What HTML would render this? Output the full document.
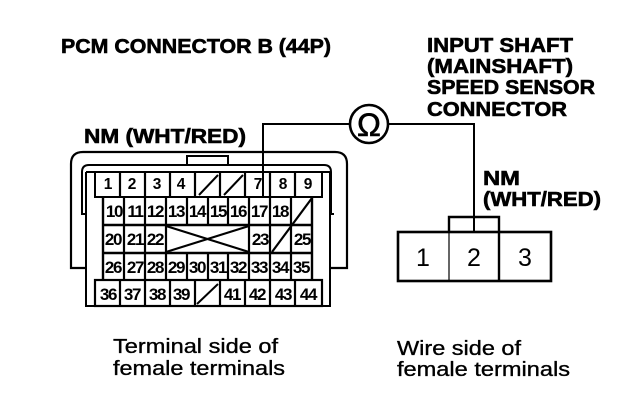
<!DOCTYPE html>
<html><head><meta charset="utf-8"><style>
html,body{margin:0;padding:0;background:#fff}
svg{display:block}
text{font-family:"Liberation Sans",sans-serif;fill:#000}
.b{font-weight:bold;font-size:20px;stroke:#000;stroke-width:.6px}
.n{font-size:15.5px;font-weight:bold;text-anchor:middle}
.m{font-size:17px;font-weight:bold;text-anchor:middle;letter-spacing:-1.3px}
.r{font-size:20px;stroke:#000;stroke-width:.35px}
.d{font-size:25px;text-anchor:middle}
</style></head><body>
<svg width="640" height="416" viewBox="0 0 640 416" xmlns="http://www.w3.org/2000/svg">
<rect width="640" height="416" fill="#fff"/>
<text class="b" x="61" y="53" textLength="270" lengthAdjust="spacingAndGlyphs">PCM CONNECTOR B (44P)</text>
<text class="b" x="427" y="52" textLength="146" lengthAdjust="spacingAndGlyphs">INPUT SHAFT</text>
<text class="b" x="427" y="73" textLength="146" lengthAdjust="spacingAndGlyphs">(MAINSHAFT)</text>
<text class="b" x="427" y="94" textLength="168" lengthAdjust="spacingAndGlyphs">SPEED SENSOR</text>
<text class="b" x="427" y="116" textLength="140" lengthAdjust="spacingAndGlyphs">CONNECTOR</text>
<text class="b" x="84" y="143" textLength="162" lengthAdjust="spacingAndGlyphs">NM (WHT/RED)</text>
<text class="b" x="483" y="185" textLength="37" lengthAdjust="spacingAndGlyphs">NM</text>
<text class="b" x="483" y="206" textLength="118" lengthAdjust="spacingAndGlyphs">(WHT/RED)</text>

<g fill="none" stroke="#000" stroke-width="2">
<path d="M85 268H71V164Q71 152 83 152H335Q347 152 347 164V268H330" stroke-width="2.2"/>
<path d="M85 214H82V172Q82 165 89 165H324Q331 165 331 172V214H334"/>
<rect x="187" y="156" width="41" height="9"/>
<path d="M86 172V306H330V172" stroke-width="2"/>
<path d="M86 172H330"/>
<rect x="95" y="172" width="227" height="25"/>
<path d="M120 172V197M145 172V197M170 172V197M195 172V197M220 172V197M245 172V197M270 172V197M295 172V197" stroke-width="2.2"/>
<path d="M199 195L218 175M224 195L243 175"/>
<path d="M103 197V280M312 197V280M103 225H312M103 253H312" stroke-width="2.4"/>
<path d="M124 197V280M145 197V280M166 197V280M187 197V225M208 197V225M228 197V225M249 197V280M270 197V253M291 197V253M187 253V280M208 253V280M228 253V280M270 253V280M291 253V280" stroke-width="2.2"/>
<path d="M166 226L249 252M166 252L249 226M272 252L312 198" stroke-width="2.2"/>
<rect x="95" y="280" width="227" height="26" stroke-width="2.2"/>
<path d="M120 280V306M145 280V306M170 280V306M195 280V306M220 280V306M245 280V306M270 280V306M295 280V306" stroke-width="2.2"/>
<path d="M197 304L218 284"/>
<path d="M350 124H263V197" stroke-width="2"/>
<path d="M388 124H474V232" stroke-width="2"/>
<circle cx="369" cy="124" r="19" stroke-width="2.6"/>
<rect x="398" y="232" width="153" height="49" stroke-width="2.6"/>
<path d="M449 232V281" stroke-width="1.2"/>
<path d="M499 232V281" stroke-width="2.4"/>
<path d="M449 232V217H499V232" stroke-width="2.4"/>
</g>
<text x="369" y="136" style="font-size:32px;text-anchor:middle;stroke:#000;stroke-width:.6px">Ω</text>

<text class="n" x="108" y="189">1</text><text class="n" x="132" y="189">2</text><text class="n" x="157" y="189">3</text><text class="n" x="181" y="189">4</text><text class="n" x="258" y="189">7</text><text class="n" x="283" y="189">8</text><text class="n" x="308" y="189">9</text>
<text class="m" x="114" y="217">10</text><text class="m" x="135" y="217">11</text><text class="m" x="155" y="217">12</text><text class="m" x="176" y="217">13</text><text class="m" x="197" y="217">14</text><text class="m" x="218" y="217">15</text><text class="m" x="238" y="217">16</text><text class="m" x="259" y="217">17</text><text class="m" x="280" y="217">18</text>
<text class="m" x="113" y="245">20</text><text class="m" x="135" y="245">21</text><text class="m" x="155" y="245">22</text><text class="m" x="260" y="245">23</text><text class="m" x="302" y="245">25</text>
<text class="m" x="113" y="273">26</text><text class="m" x="135" y="273">27</text><text class="m" x="155" y="273">28</text><text class="m" x="176" y="273">29</text><text class="m" x="197" y="273">30</text><text class="m" x="218" y="273">31</text><text class="m" x="238" y="273">32</text><text class="m" x="259" y="273">33</text><text class="m" x="280" y="273">34</text><text class="m" x="301" y="273">35</text>
<text class="m" x="108" y="300">36</text><text class="m" x="132" y="300">37</text><text class="m" x="157" y="300">38</text><text class="m" x="181" y="300">39</text><text class="m" x="232" y="300">41</text><text class="m" x="257" y="300">42</text><text class="m" x="283" y="300">43</text><text class="m" x="308" y="300">44</text>

<text class="d" x="423" y="266">1</text><text class="d" x="474" y="266">2</text><text class="d" x="525" y="266">3</text>

<text class="r" x="113" y="353" textLength="165" lengthAdjust="spacingAndGlyphs">Terminal side of</text>
<text class="r" x="113" y="375" textLength="172" lengthAdjust="spacingAndGlyphs">female terminals</text>
<text class="r" x="397" y="355" textLength="124" lengthAdjust="spacingAndGlyphs">Wire side of</text>
<text class="r" x="397" y="376" textLength="173" lengthAdjust="spacingAndGlyphs">female terminals</text>
</svg>
</body></html>
